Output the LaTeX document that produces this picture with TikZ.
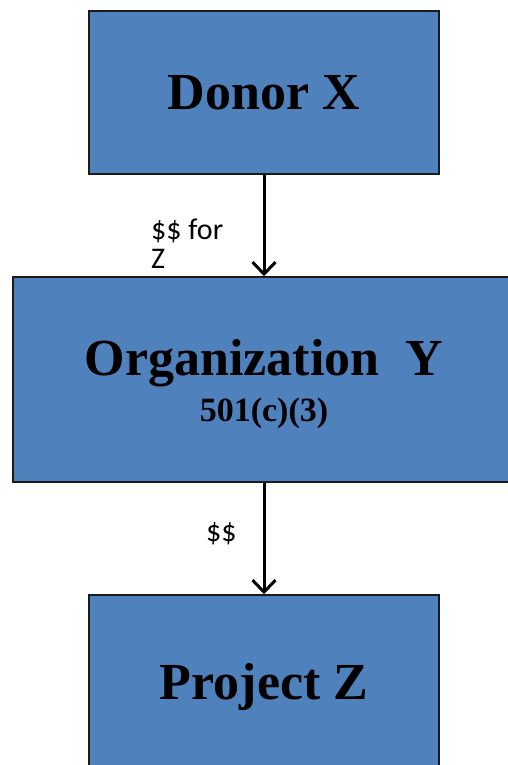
\documentclass[tikz,border=0pt]{standalone}
\usepackage{fontspec}
\setmainfont{Liberation Serif}
\newfontfamily\labelfont{Carlito}
\usetikzlibrary{arrows.meta,positioning}
\definecolor{boxblue}{HTML}{4F81BD}
\definecolor{boxedge}{HTML}{1A1A1A}
\tikzset{
  bluebox/.style={draw=boxedge, line width=1.5pt, fill=boxblue, align=center,
                  inner sep=0pt, text=black, font=\fontsize{52}{56}\selectfont\bfseries},
  arr/.style={-{Straight Barb[length=12pt,width=23pt]}, line width=3pt, color=black},
  moneylabel/.style={font=\labelfont\fontsize{30}{29}\selectfont, inner sep=0pt,
                     anchor=north west, align=left}}
\begin{document}
\begin{tikzpicture}[x=1pt,y=-1pt]
  \useasboundingbox (0,0) rectangle (508,765);
  \clip (0,0) rectangle (508,765);
  \fill[white] (0,0) rectangle (508,765);
  \node[bluebox, minimum width=350pt, minimum height=163pt] (donor) at (264,92.5) {Donor X};
  \node[bluebox, minimum width=502pt, minimum height=205pt] (org) at (264,379.5)
    {\rule{0pt}{46pt}Organization\ \ Y\\[-10pt]{\fontsize{34}{40}\selectfont 501(c)(3)}};
  \node[bluebox, minimum width=350pt, minimum height=184pt] (proj) at (264,687) {Project Z};
  \draw[arr] (donor) -- (org);
  \draw[arr] (org) -- (proj);
  \node[moneylabel] (forz) at (151,219) {\$\$ for\\Z};
  \node[moneylabel] (pay) at (206,522) {\$\$};
\end{tikzpicture}
\end{document}
